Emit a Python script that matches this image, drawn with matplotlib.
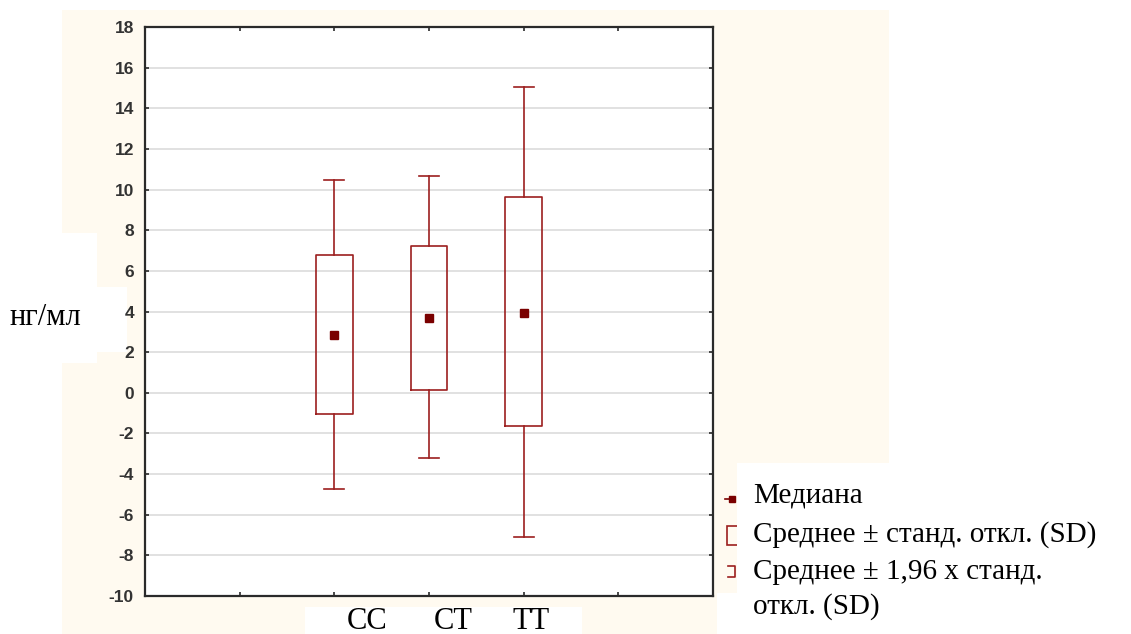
import matplotlib
matplotlib.use("Agg")
import matplotlib.pyplot as plt
from matplotlib.patches import Rectangle
from matplotlib.lines import Line2D

# группы генотипов и их статистики (нг/мл)
groups = ["CC", "CT", "TT"]
medians = [2.84, 3.68, 3.93]
sd_low = [-1.04, 0.14, -1.63]      # среднее - SD
sd_high = [6.78, 7.22, 9.64]       # среднее + SD
ci_low = [-4.75, -3.22, -7.11]     # среднее - 1,96 SD
ci_high = [10.47, 10.67, 15.03]    # среднее + 1,96 SD

legend_labels = ["Медиана", "Среднее ± станд. откл. (SD)",
                 "Среднее ± 1,96 х станд.", "откл. (SD)"]
y_ticks = list(range(-10, 19, 2))

W, H = 1131, 634
RED = "#9c1f1f"
DARK = "#7a0000"
CREAM = "#fffaf0"


def fx(p):
    return p / W


def fy(p):
    return 1 - p / H


def frect(x0, y0, x1, y1, color, z):
    fig.patches.append(Rectangle((fx(x0), fy(y1)), fx(x1) - fx(x0), fy(y0) - fy(y1),
                                 transform=fig.transFigure, facecolor=color,
                                 edgecolor="none", zorder=z))


fig = plt.figure(figsize=(W / 100, H / 100), dpi=100)
fig.patch.set_facecolor("white")

# фон и белые подложки под подписями
frect(62, 10, 889, 634, CREAM, -3)
frect(0, 233, 97, 363, "white", -1)
frect(0, 287, 127, 352, "white", -1)
frect(305, 607, 582, 634, "white", -1)
frect(737, 463, W, H, "white", -1)
frect(717, 593, 737, H, "white", -1)

ax = fig.add_axes([fx(145), fy(596), fx(713) - fx(145), fy(27) - fy(596)])
ax.set_facecolor("white")

positions = [2, 3, 4]
stats = []
for g, m, q1, q3, lo, hi in zip(groups, medians, sd_low, sd_high, ci_low, ci_high):
    stats.append(dict(label=g, med=m, q1=q1, q3=q3, whislo=lo, whishi=hi, fliers=[]))

lp = dict(color=RED, linewidth=1.2)
ax.bxp(stats, positions=positions, widths=0.39, capwidths=0.21, showfliers=False,
       boxprops=lp, whiskerprops=lp, capprops=lp,
       medianprops=dict(linestyle="none"), manage_ticks=False, zorder=3)
ax.plot(positions, medians, "s", color=DARK, markersize=6, zorder=4)

ax.set_xlim(0, 6)
ax.set_ylim(-10, 18)
ax.set_xticks([1, 2, 3, 4, 5])
ax.set_xticklabels([])
ax.set_yticks(y_ticks)
ax.set_yticklabels([str(t) for t in y_ticks], fontfamily="Liberation Sans",
                   fontsize=12.5, fontweight="bold", color="#333333")
ax.tick_params(axis="both", direction="in", length=3, width=1.2, color="#2a2a2a",
               top=True, right=True)
ax.tick_params(axis="y", pad=8)
for t in y_ticks[1:-1]:
    ax.axhline(t, color="#dcdcdc", linewidth=1.2, zorder=1)
for s in ax.spines.values():
    s.set_color("#2a2a2a")
    s.set_linewidth(1.6)

serif = "Liberation Serif"
fig.text(fx(9), fy(325), "нг/мл", fontfamily=serif, fontsize=22, va="baseline")
for g, cx in zip(groups, [367, 453, 531]):
    fig.text(fx(cx), fy(629), g, fontfamily=serif, fontsize=22, ha="center", va="baseline")

# условные обозначения
fig.lines.append(Line2D([fx(725), fx(735)], [fy(499), fy(499)], transform=fig.transFigure,
                        color=DARK, linewidth=1.2, zorder=-2))
fig.lines.append(Line2D([fx(732)], [fy(499)], transform=fig.transFigure, marker="s",
                        markersize=5, color=DARK, linestyle="none", zorder=-2))
fig.patches.append(Rectangle((fx(727), fy(545)), fx(745) - fx(727), fy(526) - fy(545),
                             transform=fig.transFigure, facecolor="none",
                             edgecolor=RED, linewidth=1.2, zorder=-2))
fig.lines.append(Line2D([fx(728), fx(735), fx(735), fx(728)],
                        [fy(566), fy(566), fy(577), fy(577)], transform=fig.transFigure,
                        color=RED, linewidth=1.2, zorder=-2))
for lab, base in zip(legend_labels, [503, 542, 579, 614]):
    fig.text(fx(753), fy(base), lab, fontfamily=serif, fontsize=21, va="baseline")

fig.savefig("out.png", dpi=100)
